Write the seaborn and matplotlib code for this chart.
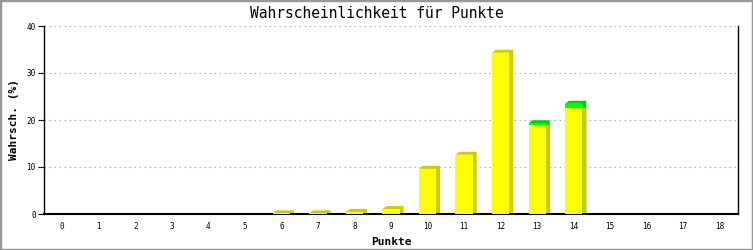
import matplotlib
matplotlib.use("Agg")
import matplotlib.pyplot as plt
from matplotlib.patches import Polygon, Rectangle
import seaborn as sns
import pandas as pd
import numpy as np

# ---- data ----
punkte = [str(i) for i in range(19)]
yellow_vals = [0, 0, 0, 0, 0, 0, 0.15, 0.15, 0.45, 1.05, 9.6, 12.6, 34.3, 18.9, 22.6, 0, 0, 0, 0]
green_vals = [0, 0, 0, 0, 0, 0, 0, 0, 0, 0, 0, 0, 0, 0.4, 0.85, 0, 0, 0, 0]
y_ticks = [0, 10, 20, 30, 40]
title = "Wahrscheinlichkeit für Punkte"
xlabel = "Punkte"
ylabel = "Wahrsch. (%)"

sns.set_style("white")
plt.rcParams["font.family"] = ["DejaVu Sans Mono", "DejaVu Sans"]
plt.rcParams["text.color"] = "black"
plt.rcParams["axes.labelcolor"] = "black"
plt.rcParams["xtick.color"] = "black"
plt.rcParams["ytick.color"] = "black"

W, H = 753, 250
fig = plt.figure(figsize=(W / 100, H / 100), dpi=100)
L, R, T, B = 44, 738, 26, 214
ax = fig.add_axes([L / W, 1 - B / H, (R - L) / W, (B - T) / H])

total_vals = [y + g for y, g in zip(yellow_vals, green_vals)]
df = pd.DataFrame({"Punkte": punkte, "yellow": yellow_vals, "total": total_vals})

ax.set_xlim(-0.5, 18.5)
ax.set_ylim(0, 40)

# pixel -> data conversion for 3D depth
px_x = 19 / (R - L)
px_y = 40 / (B - T)
DX, DY = 4 * px_x, 3 * px_y

# draw fronts via seaborn
sns.barplot(data=df, x="Punkte", y="total", color="#00ff00", saturation=1,
            width=0.47, ax=ax, zorder=3, linewidth=0)
n_green = len(ax.patches)
sns.barplot(data=df, x="Punkte", y="yellow", color="#ffff00", saturation=1,
            width=0.47, ax=ax, zorder=5, linewidth=0)
green_bars = ax.patches[:n_green]
yellow_bars = ax.patches[n_green:]

def depth_poly(bar, top=True):
    x0 = bar.get_x()
    w = bar.get_width()
    x1 = x0 + w
    y0 = bar.get_y()
    y1 = y0 + bar.get_height()
    if top:
        pts = [(x1, y0), (x1 + DX, y0 + DY * 0.3), (x1 + DX, y1 + DY), (x0 + DX, y1 + DY), (x0, y1), (x1, y1)]
    else:
        pts = [(x1, y0), (x1 + DX, y0 + DY * 0.3), (x1 + DX, y1), (x1, y1)]
    return pts

for gb, yb, g in zip(green_bars, yellow_bars, green_vals):
    h = gb.get_height()
    if h <= 0 or np.isnan(h):
        continue
    if g > 0:
        ax.add_patch(Polygon(depth_poly(gb, True), closed=True, facecolor="#00cc00",
                             edgecolor="none", zorder=2))
        ax.add_patch(Polygon(depth_poly(yb, False), closed=True, facecolor="#cccc00",
                             edgecolor="none", zorder=2.5))
    else:
        ax.add_patch(Polygon(depth_poly(yb, True), closed=True, facecolor="#cccc00",
                             edgecolor="none", zorder=2))

# grid
for yv in y_ticks[1:]:
    ax.axhline(yv, color="#b0b0b0", lw=0.8, linestyle=(0, (1.5, 3)), zorder=1)

ax.set_yticks(y_ticks)
ax.set_yticklabels([str(v) for v in y_ticks])
ax.set_xticks(range(len(punkte)))
ax.set_xticklabels(punkte)
ax.tick_params(axis="y", length=4, width=0.8, color="black", labelsize=5.5, pad=2,
               direction="out", left=True, labelcolor="black")
ax.tick_params(axis="x", length=0, labelsize=5.5, pad=6, labelcolor="black")

for s in ["left", "right", "bottom"]:
    ax.spines[s].set_visible(True)
    ax.spines[s].set_color("black")
ax.spines["left"].set_linewidth(1.0)
ax.spines["right"].set_linewidth(1.0)
ax.spines["bottom"].set_linewidth(1.5)
ax.spines["top"].set_visible(False)

ax.set_xlabel(xlabel, fontsize=8, fontweight="bold", labelpad=4, color="black")
ax.set_ylabel(ylabel, fontsize=8, fontweight="bold", labelpad=5, color="black")
fig.text(0.5, 1 - 13 / H, title, ha="center", va="center", fontsize=10.5, color="black")

# outer grey border
fig.patches.append(Rectangle((0, 0), 1, 1, transform=fig.transFigure, fill=False,
                             edgecolor="#999999", linewidth=2.5, zorder=10))

fig.savefig("out.png", dpi=100, facecolor="white")
